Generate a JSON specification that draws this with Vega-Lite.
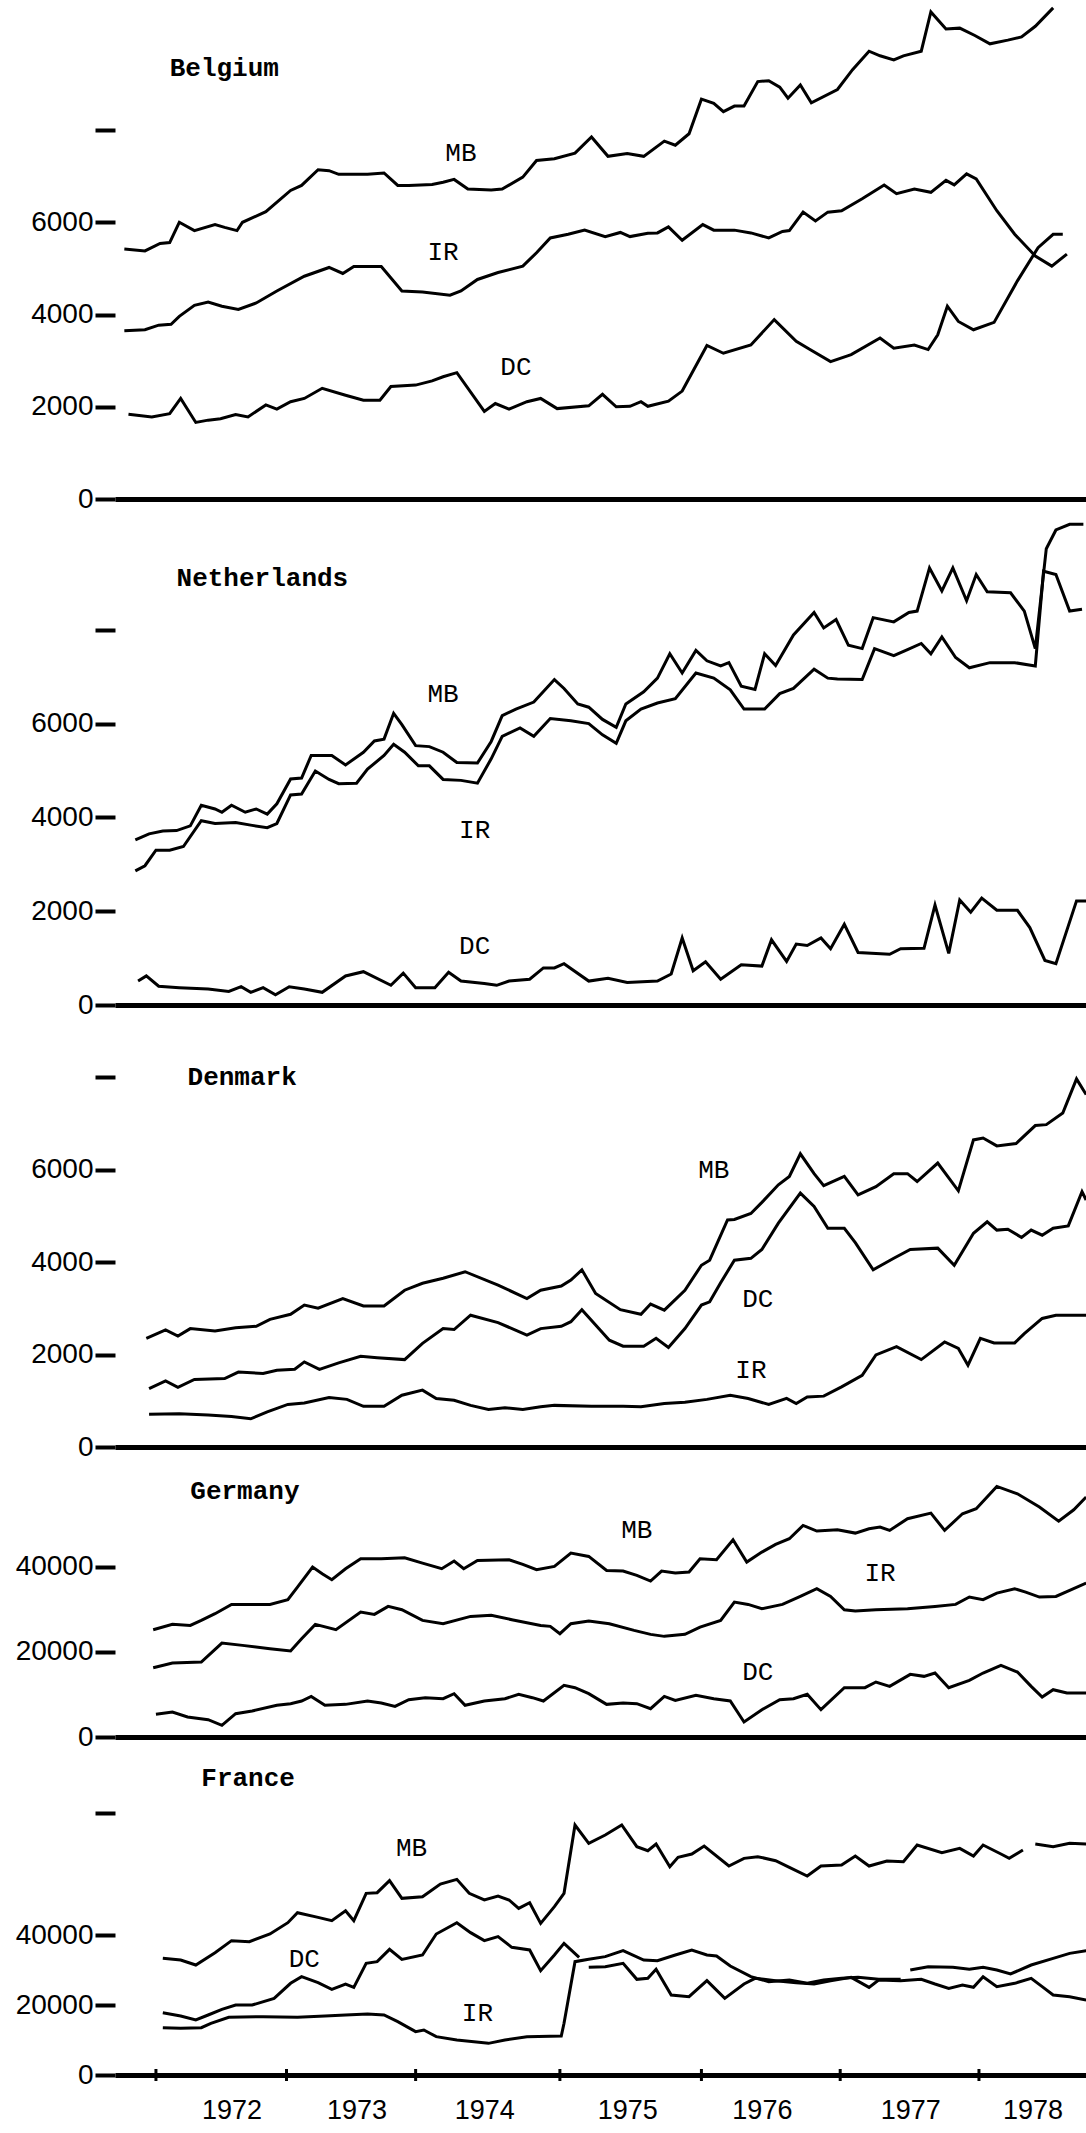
{
"$schema": "https://vega.github.io/schema/vega-lite/v6.json",
"padding": {"left": 15, "top": 0, "right": 0, "bottom": 0},
"background": "white",
"spacing": 0,
"bounds": "flush",
"config": {
 "view": {"stroke": null},
 "axisY": {"domain": false, "grid": false, "tickColor": "black", "tickWidth": 4, "tickSize": 20, "labelFont": "Liberation Sans", "labelFontSize": 28, "labelColor": "black", "labelPadding": 2, "labelFlush": false},
 "axisX": {"domainColor": "black", "domainWidth": 5, "ticks": false, "labels": false, "grid": false},
 "line": {"color": "black", "strokeWidth": 3, "clip": true},
 "text": {"font": "Liberation Mono", "fontSize": 26, "color": "black"}
},
"datasets": {
 "be": [
{"s":"MB","t":1971.77,"v":5420},{"s":"MB","t":1971.92,"v":5380},{"s":"MB","t":1972.03,"v":5540},{"s":"MB","t":1972.10,"v":5560},{"s":"MB","t":1972.17,"v":6000},{"s":"MB","t":1972.28,"v":5820},{"s":"MB","t":1972.43,"v":5950},{"s":"MB","t":1972.50,"v":5890},{"s":"MB","t":1972.59,"v":5820},{"s":"MB","t":1972.63,"v":6000},{"s":"MB","t":1972.80,"v":6230},{"s":"MB","t":1972.98,"v":6690},{"s":"MB","t":1973.06,"v":6800},{"s":"MB","t":1973.18,"v":7140},{"s":"MB","t":1973.26,"v":7120},{"s":"MB","t":1973.33,"v":7040},{"s":"MB","t":1973.54,"v":7040},{"s":"MB","t":1973.66,"v":7070},{"s":"MB","t":1973.76,"v":6800},{"s":"MB","t":1973.84,"v":6800},{"s":"MB","t":1974.01,"v":6820},{"s":"MB","t":1974.09,"v":6870},{"s":"MB","t":1974.17,"v":6930},{"s":"MB","t":1974.27,"v":6720},{"s":"MB","t":1974.44,"v":6700},{"s":"MB","t":1974.52,"v":6720},{"s":"MB","t":1974.67,"v":6980},{"s":"MB","t":1974.77,"v":7340},{"s":"MB","t":1974.90,"v":7380},{"s":"MB","t":1975.05,"v":7500},{"s":"MB","t":1975.17,"v":7850},{"s":"MB","t":1975.29,"v":7430},{"s":"MB","t":1975.43,"v":7490},{"s":"MB","t":1975.55,"v":7430},{"s":"MB","t":1975.70,"v":7760},{"s":"MB","t":1975.78,"v":7670},{"s":"MB","t":1975.88,"v":7920},{"s":"MB","t":1975.97,"v":8670},{"s":"MB","t":1976.06,"v":8580},{"s":"MB","t":1976.13,"v":8400},{"s":"MB","t":1976.21,"v":8520},{"s":"MB","t":1976.28,"v":8520},{"s":"MB","t":1976.38,"v":9050},{"s":"MB","t":1976.46,"v":9070},{"s":"MB","t":1976.54,"v":8930},{"s":"MB","t":1976.60,"v":8690},{"s":"MB","t":1976.69,"v":8980},{"s":"MB","t":1976.77,"v":8590},{"s":"MB","t":1976.96,"v":8880},{"s":"MB","t":1977.07,"v":9310},{"s":"MB","t":1977.19,"v":9710},{"s":"MB","t":1977.27,"v":9610},{"s":"MB","t":1977.37,"v":9520},{"s":"MB","t":1977.44,"v":9610},{"s":"MB","t":1977.57,"v":9710},{"s":"MB","t":1977.64,"v":10560},{"s":"MB","t":1977.75,"v":10190},{"s":"MB","t":1977.85,"v":10210},{"s":"MB","t":1977.96,"v":10050},{"s":"MB","t":1978.07,"v":9870},{"s":"MB","t":1978.20,"v":9950},{"s":"MB","t":1978.30,"v":10020},{"s":"MB","t":1978.40,"v":10250},{"s":"MB","t":1978.53,"v":10650},
{"s":"IR","t":1971.77,"v":3650},{"s":"IR","t":1971.92,"v":3670},{"s":"IR","t":1972.02,"v":3770},{"s":"IR","t":1972.11,"v":3790},{"s":"IR","t":1972.17,"v":3960},{"s":"IR","t":1972.28,"v":4200},{"s":"IR","t":1972.38,"v":4270},{"s":"IR","t":1972.48,"v":4180},{"s":"IR","t":1972.60,"v":4110},{"s":"IR","t":1972.73,"v":4250},{"s":"IR","t":1972.88,"v":4510},{"s":"IR","t":1973.08,"v":4830},{"s":"IR","t":1973.26,"v":5020},{"s":"IR","t":1973.36,"v":4890},{"s":"IR","t":1973.44,"v":5040},{"s":"IR","t":1973.64,"v":5040},{"s":"IR","t":1973.79,"v":4510},{"s":"IR","t":1973.94,"v":4490},{"s":"IR","t":1974.14,"v":4420},{"s":"IR","t":1974.22,"v":4510},{"s":"IR","t":1974.34,"v":4760},{"s":"IR","t":1974.49,"v":4910},{"s":"IR","t":1974.67,"v":5050},{"s":"IR","t":1974.77,"v":5340},{"s":"IR","t":1974.87,"v":5660},{"s":"IR","t":1975.00,"v":5740},{"s":"IR","t":1975.12,"v":5830},{"s":"IR","t":1975.27,"v":5690},{"s":"IR","t":1975.38,"v":5780},{"s":"IR","t":1975.45,"v":5690},{"s":"IR","t":1975.58,"v":5760},{"s":"IR","t":1975.65,"v":5770},{"s":"IR","t":1975.73,"v":5900},{"s":"IR","t":1975.83,"v":5610},{"s":"IR","t":1975.98,"v":5950},{"s":"IR","t":1976.06,"v":5830},{"s":"IR","t":1976.21,"v":5830},{"s":"IR","t":1976.33,"v":5770},{"s":"IR","t":1976.46,"v":5660},{"s":"IR","t":1976.56,"v":5800},{"s":"IR","t":1976.61,"v":5820},{"s":"IR","t":1976.71,"v":6220},{"s":"IR","t":1976.80,"v":6030},{"s":"IR","t":1976.89,"v":6220},{"s":"IR","t":1976.99,"v":6250},{"s":"IR","t":1977.14,"v":6510},{"s":"IR","t":1977.30,"v":6810},{"s":"IR","t":1977.39,"v":6620},{"s":"IR","t":1977.52,"v":6720},{"s":"IR","t":1977.64,"v":6650},{"s":"IR","t":1977.75,"v":6910},{"s":"IR","t":1977.81,"v":6810},{"s":"IR","t":1977.90,"v":7050},{"s":"IR","t":1977.97,"v":6940},{"s":"IR","t":1978.12,"v":6250},{"s":"IR","t":1978.25,"v":5740},{"s":"IR","t":1978.40,"v":5270},{"s":"IR","t":1978.52,"v":5050},{"s":"IR","t":1978.63,"v":5310},
{"s":"DC","t":1971.80,"v":1840},{"s":"DC","t":1971.97,"v":1780},{"s":"DC","t":1972.10,"v":1850},{"s":"DC","t":1972.18,"v":2180},{"s":"DC","t":1972.29,"v":1660},{"s":"DC","t":1972.38,"v":1710},{"s":"DC","t":1972.47,"v":1740},{"s":"DC","t":1972.58,"v":1830},{"s":"DC","t":1972.67,"v":1780},{"s":"DC","t":1972.80,"v":2040},{"s":"DC","t":1972.88,"v":1950},{"s":"DC","t":1972.98,"v":2110},{"s":"DC","t":1973.08,"v":2180},{"s":"DC","t":1973.21,"v":2400},{"s":"DC","t":1973.38,"v":2250},{"s":"DC","t":1973.51,"v":2140},{"s":"DC","t":1973.63,"v":2140},{"s":"DC","t":1973.71,"v":2440},{"s":"DC","t":1973.89,"v":2470},{"s":"DC","t":1974.01,"v":2560},{"s":"DC","t":1974.09,"v":2650},{"s":"DC","t":1974.19,"v":2740},{"s":"DC","t":1974.39,"v":1900},{"s":"DC","t":1974.47,"v":2070},{"s":"DC","t":1974.57,"v":1950},{"s":"DC","t":1974.70,"v":2110},{"s":"DC","t":1974.80,"v":2180},{"s":"DC","t":1974.92,"v":1960},{"s":"DC","t":1975.15,"v":2020},{"s":"DC","t":1975.25,"v":2270},{"s":"DC","t":1975.35,"v":2000},{"s":"DC","t":1975.45,"v":2010},{"s":"DC","t":1975.53,"v":2110},{"s":"DC","t":1975.58,"v":2010},{"s":"DC","t":1975.73,"v":2120},{"s":"DC","t":1975.83,"v":2340},{"s":"DC","t":1976.01,"v":3330},{"s":"DC","t":1976.13,"v":3160},{"s":"DC","t":1976.33,"v":3340},{"s":"DC","t":1976.50,"v":3890},{"s":"DC","t":1976.66,"v":3420},{"s":"DC","t":1976.76,"v":3240},{"s":"DC","t":1976.91,"v":2980},{"s":"DC","t":1977.06,"v":3130},{"s":"DC","t":1977.27,"v":3490},{"s":"DC","t":1977.37,"v":3270},{"s":"DC","t":1977.52,"v":3340},{"s":"DC","t":1977.62,"v":3240},{"s":"DC","t":1977.69,"v":3560},{"s":"DC","t":1977.76,"v":4180},{"s":"DC","t":1977.84,"v":3850},{"s":"DC","t":1977.95,"v":3670},{"s":"DC","t":1978.10,"v":3830},{"s":"DC","t":1978.27,"v":4730},{"s":"DC","t":1978.42,"v":5450},{"s":"DC","t":1978.53,"v":5740},{"s":"DC","t":1978.60,"v":5740}
 ],
 "beL": [{"l":"MB","t":1974.22,"v":7500},{"l":"IR","t":1974.09,"v":5365},{"l":"DC","t":1974.62,"v":2870}],
 "beT": [{"l":"Belgium","t":1972.10,"v":9350}],
 "nl": [
{"s":"MB","t":1971.85,"v":3520},{"s":"MB","t":1971.95,"v":3650},{"s":"MB","t":1972.05,"v":3710},{"s":"MB","t":1972.15,"v":3720},{"s":"MB","t":1972.25,"v":3820},{"s":"MB","t":1972.33,"v":4260},{"s":"MB","t":1972.43,"v":4180},{"s":"MB","t":1972.48,"v":4110},{"s":"MB","t":1972.55,"v":4260},{"s":"MB","t":1972.65,"v":4110},{"s":"MB","t":1972.73,"v":4180},{"s":"MB","t":1972.81,"v":4070},{"s":"MB","t":1972.88,"v":4290},{"s":"MB","t":1972.98,"v":4820},{"s":"MB","t":1973.06,"v":4840},{"s":"MB","t":1973.13,"v":5320},{"s":"MB","t":1973.28,"v":5320},{"s":"MB","t":1973.38,"v":5120},{"s":"MB","t":1973.51,"v":5390},{"s":"MB","t":1973.59,"v":5630},{"s":"MB","t":1973.66,"v":5670},{"s":"MB","t":1973.73,"v":6220},{"s":"MB","t":1973.79,"v":5980},{"s":"MB","t":1973.89,"v":5530},{"s":"MB","t":1973.99,"v":5510},{"s":"MB","t":1974.09,"v":5390},{"s":"MB","t":1974.19,"v":5170},{"s":"MB","t":1974.34,"v":5160},{"s":"MB","t":1974.44,"v":5620},{"s":"MB","t":1974.52,"v":6170},{"s":"MB","t":1974.62,"v":6310},{"s":"MB","t":1974.75,"v":6460},{"s":"MB","t":1974.90,"v":6940},{"s":"MB","t":1974.97,"v":6750},{"s":"MB","t":1975.07,"v":6420},{"s":"MB","t":1975.15,"v":6350},{"s":"MB","t":1975.25,"v":6090},{"s":"MB","t":1975.35,"v":5920},{"s":"MB","t":1975.42,"v":6420},{"s":"MB","t":1975.55,"v":6680},{"s":"MB","t":1975.65,"v":6970},{"s":"MB","t":1975.74,"v":7490},{"s":"MB","t":1975.83,"v":7080},{"s":"MB","t":1975.93,"v":7560},{"s":"MB","t":1976.01,"v":7340},{"s":"MB","t":1976.11,"v":7230},{"s":"MB","t":1976.17,"v":7300},{"s":"MB","t":1976.26,"v":6800},{"s":"MB","t":1976.36,"v":6730},{"s":"MB","t":1976.43,"v":7490},{"s":"MB","t":1976.51,"v":7240},{"s":"MB","t":1976.64,"v":7890},{"s":"MB","t":1976.79,"v":8370},{"s":"MB","t":1976.86,"v":8040},{"s":"MB","t":1976.95,"v":8220},{"s":"MB","t":1977.04,"v":7670},{"s":"MB","t":1977.14,"v":7600},{"s":"MB","t":1977.22,"v":8260},{"s":"MB","t":1977.37,"v":8170},{"s":"MB","t":1977.48,"v":8370},{"s":"MB","t":1977.54,"v":8400},{"s":"MB","t":1977.63,"v":9320},{"s":"MB","t":1977.72,"v":8830},{"s":"MB","t":1977.80,"v":9320},{"s":"MB","t":1977.90,"v":8620},{"s":"MB","t":1977.97,"v":9180},{"s":"MB","t":1978.05,"v":8810},{"s":"MB","t":1978.22,"v":8790},{"s":"MB","t":1978.32,"v":8400},{"s":"MB","t":1978.40,"v":7600},{"s":"MB","t":1978.48,"v":9730},{"s":"MB","t":1978.55,"v":10130},{"s":"MB","t":1978.65,"v":10250},{"s":"MB","t":1978.75,"v":10250},
{"s":"IR","t":1971.85,"v":2860},{"s":"IR","t":1971.92,"v":2970},{"s":"IR","t":1972.00,"v":3300},{"s":"IR","t":1972.10,"v":3300},{"s":"IR","t":1972.20,"v":3380},{"s":"IR","t":1972.33,"v":3930},{"s":"IR","t":1972.43,"v":3870},{"s":"IR","t":1972.58,"v":3890},{"s":"IR","t":1972.70,"v":3830},{"s":"IR","t":1972.81,"v":3780},{"s":"IR","t":1972.88,"v":3870},{"s":"IR","t":1972.98,"v":4480},{"s":"IR","t":1973.06,"v":4500},{"s":"IR","t":1973.16,"v":4990},{"s":"IR","t":1973.26,"v":4810},{"s":"IR","t":1973.33,"v":4720},{"s":"IR","t":1973.46,"v":4730},{"s":"IR","t":1973.54,"v":5030},{"s":"IR","t":1973.66,"v":5320},{"s":"IR","t":1973.73,"v":5560},{"s":"IR","t":1973.81,"v":5390},{"s":"IR","t":1973.91,"v":5100},{"s":"IR","t":1973.99,"v":5100},{"s":"IR","t":1974.09,"v":4810},{"s":"IR","t":1974.22,"v":4790},{"s":"IR","t":1974.34,"v":4730},{"s":"IR","t":1974.44,"v":5250},{"s":"IR","t":1974.52,"v":5730},{"s":"IR","t":1974.65,"v":5910},{"s":"IR","t":1974.75,"v":5730},{"s":"IR","t":1974.87,"v":6110},{"s":"IR","t":1975.02,"v":6060},{"s":"IR","t":1975.15,"v":6000},{"s":"IR","t":1975.25,"v":5760},{"s":"IR","t":1975.35,"v":5580},{"s":"IR","t":1975.42,"v":6060},{"s":"IR","t":1975.53,"v":6310},{"s":"IR","t":1975.65,"v":6440},{"s":"IR","t":1975.78,"v":6530},{"s":"IR","t":1975.93,"v":7080},{"s":"IR","t":1976.06,"v":6970},{"s":"IR","t":1976.18,"v":6720},{"s":"IR","t":1976.28,"v":6310},{"s":"IR","t":1976.43,"v":6310},{"s":"IR","t":1976.54,"v":6640},{"s":"IR","t":1976.64,"v":6750},{"s":"IR","t":1976.79,"v":7160},{"s":"IR","t":1976.89,"v":6970},{"s":"IR","t":1976.96,"v":6950},{"s":"IR","t":1977.14,"v":6940},{"s":"IR","t":1977.23,"v":7600},{"s":"IR","t":1977.37,"v":7450},{"s":"IR","t":1977.47,"v":7580},{"s":"IR","t":1977.57,"v":7710},{"s":"IR","t":1977.64,"v":7490},{"s":"IR","t":1977.72,"v":7850},{"s":"IR","t":1977.82,"v":7410},{"s":"IR","t":1977.92,"v":7190},{"s":"IR","t":1978.07,"v":7300},{"s":"IR","t":1978.25,"v":7300},{"s":"IR","t":1978.40,"v":7230},{"s":"IR","t":1978.46,"v":9250},{"s":"IR","t":1978.55,"v":9180},{"s":"IR","t":1978.65,"v":8400},{"s":"IR","t":1978.74,"v":8440},
{"s":"DC","t":1971.87,"v":510},{"s":"DC","t":1971.93,"v":620},{"s":"DC","t":1972.02,"v":400},{"s":"DC","t":1972.17,"v":370},{"s":"DC","t":1972.38,"v":340},{"s":"DC","t":1972.53,"v":290},{"s":"DC","t":1972.62,"v":390},{"s":"DC","t":1972.69,"v":270},{"s":"DC","t":1972.78,"v":370},{"s":"DC","t":1972.87,"v":220},{"s":"DC","t":1972.97,"v":390},{"s":"DC","t":1973.08,"v":340},{"s":"DC","t":1973.21,"v":270},{"s":"DC","t":1973.38,"v":620},{"s":"DC","t":1973.51,"v":710},{"s":"DC","t":1973.71,"v":420},{"s":"DC","t":1973.80,"v":680},{"s":"DC","t":1973.89,"v":370},{"s":"DC","t":1974.03,"v":370},{"s":"DC","t":1974.13,"v":700},{"s":"DC","t":1974.22,"v":510},{"s":"DC","t":1974.39,"v":460},{"s":"DC","t":1974.48,"v":420},{"s":"DC","t":1974.57,"v":510},{"s":"DC","t":1974.72,"v":550},{"s":"DC","t":1974.82,"v":790},{"s":"DC","t":1974.90,"v":790},{"s":"DC","t":1974.97,"v":880},{"s":"DC","t":1975.15,"v":510},{"s":"DC","t":1975.29,"v":570},{"s":"DC","t":1975.43,"v":480},{"s":"DC","t":1975.65,"v":510},{"s":"DC","t":1975.75,"v":660},{"s":"DC","t":1975.83,"v":1430},{"s":"DC","t":1975.91,"v":730},{"s":"DC","t":1976.00,"v":920},{"s":"DC","t":1976.11,"v":550},{"s":"DC","t":1976.26,"v":860},{"s":"DC","t":1976.41,"v":830},{"s":"DC","t":1976.48,"v":1390},{"s":"DC","t":1976.59,"v":930},{"s":"DC","t":1976.66,"v":1300},{"s":"DC","t":1976.74,"v":1270},{"s":"DC","t":1976.84,"v":1430},{"s":"DC","t":1976.91,"v":1200},{"s":"DC","t":1977.01,"v":1720},{"s":"DC","t":1977.11,"v":1120},{"s":"DC","t":1977.34,"v":1080},{"s":"DC","t":1977.42,"v":1200},{"s":"DC","t":1977.59,"v":1210},{"s":"DC","t":1977.67,"v":2130},{"s":"DC","t":1977.77,"v":1100},{"s":"DC","t":1977.85,"v":2240},{"s":"DC","t":1977.93,"v":1980},{"s":"DC","t":1978.01,"v":2280},{"s":"DC","t":1978.12,"v":2020},{"s":"DC","t":1978.27,"v":2020},{"s":"DC","t":1978.36,"v":1650},{"s":"DC","t":1978.47,"v":950},{"s":"DC","t":1978.55,"v":880},{"s":"DC","t":1978.70,"v":2220},{"s":"DC","t":1978.77,"v":2220}
 ],
 "nlL": [{"l":"MB","t":1974.09,"v":6640},{"l":"IR","t":1974.32,"v":3740},{"l":"DC","t":1974.32,"v":1250}],
 "nlT": [{"l":"Netherlands","t":1972.15,"v":9100}],
 "dk": [
{"s":"MB","t":1971.93,"v":2350},{"s":"MB","t":1972.07,"v":2530},{"s":"MB","t":1972.16,"v":2400},{"s":"MB","t":1972.25,"v":2560},{"s":"MB","t":1972.43,"v":2510},{"s":"MB","t":1972.58,"v":2580},{"s":"MB","t":1972.73,"v":2610},{"s":"MB","t":1972.83,"v":2760},{"s":"MB","t":1972.98,"v":2870},{"s":"MB","t":1973.08,"v":3070},{"s":"MB","t":1973.18,"v":3000},{"s":"MB","t":1973.36,"v":3210},{"s":"MB","t":1973.51,"v":3050},{"s":"MB","t":1973.66,"v":3050},{"s":"MB","t":1973.81,"v":3390},{"s":"MB","t":1973.94,"v":3540},{"s":"MB","t":1974.09,"v":3650},{"s":"MB","t":1974.25,"v":3790},{"s":"MB","t":1974.49,"v":3500},{"s":"MB","t":1974.70,"v":3210},{"s":"MB","t":1974.80,"v":3390},{"s":"MB","t":1974.95,"v":3480},{"s":"MB","t":1975.02,"v":3610},{"s":"MB","t":1975.10,"v":3830},{"s":"MB","t":1975.20,"v":3320},{"s":"MB","t":1975.38,"v":2970},{"s":"MB","t":1975.53,"v":2870},{"s":"MB","t":1975.60,"v":3090},{"s":"MB","t":1975.70,"v":2960},{"s":"MB","t":1975.85,"v":3390},{"s":"MB","t":1975.97,"v":3930},{"s":"MB","t":1976.03,"v":4040},{"s":"MB","t":1976.16,"v":4910},{"s":"MB","t":1976.21,"v":4920},{"s":"MB","t":1976.33,"v":5050},{"s":"MB","t":1976.41,"v":5290},{"s":"MB","t":1976.53,"v":5670},{"s":"MB","t":1976.61,"v":5850},{"s":"MB","t":1976.69,"v":6340},{"s":"MB","t":1976.79,"v":5910},{"s":"MB","t":1976.86,"v":5650},{"s":"MB","t":1977.01,"v":5850},{"s":"MB","t":1977.11,"v":5450},{"s":"MB","t":1977.24,"v":5630},{"s":"MB","t":1977.37,"v":5910},{"s":"MB","t":1977.47,"v":5910},{"s":"MB","t":1977.54,"v":5740},{"s":"MB","t":1977.69,"v":6140},{"s":"MB","t":1977.84,"v":5540},{"s":"MB","t":1977.95,"v":6640},{"s":"MB","t":1978.02,"v":6680},{"s":"MB","t":1978.12,"v":6510},{"s":"MB","t":1978.26,"v":6560},{"s":"MB","t":1978.40,"v":6950},{"s":"MB","t":1978.48,"v":6970},{"s":"MB","t":1978.60,"v":7220},{"s":"MB","t":1978.70,"v":7960},{"s":"MB","t":1978.77,"v":7620},
{"s":"DC","t":1971.95,"v":1260},{"s":"DC","t":1972.07,"v":1430},{"s":"DC","t":1972.16,"v":1290},{"s":"DC","t":1972.28,"v":1460},{"s":"DC","t":1972.50,"v":1480},{"s":"DC","t":1972.60,"v":1620},{"s":"DC","t":1972.78,"v":1590},{"s":"DC","t":1972.88,"v":1660},{"s":"DC","t":1973.01,"v":1680},{"s":"DC","t":1973.08,"v":1840},{"s":"DC","t":1973.19,"v":1680},{"s":"DC","t":1973.33,"v":1820},{"s":"DC","t":1973.49,"v":1960},{"s":"DC","t":1973.61,"v":1930},{"s":"DC","t":1973.81,"v":1890},{"s":"DC","t":1973.94,"v":2240},{"s":"DC","t":1974.09,"v":2560},{"s":"DC","t":1974.17,"v":2540},{"s":"DC","t":1974.29,"v":2850},{"s":"DC","t":1974.49,"v":2690},{"s":"DC","t":1974.70,"v":2420},{"s":"DC","t":1974.80,"v":2560},{"s":"DC","t":1974.95,"v":2610},{"s":"DC","t":1975.02,"v":2710},{"s":"DC","t":1975.10,"v":2970},{"s":"DC","t":1975.20,"v":2640},{"s":"DC","t":1975.30,"v":2310},{"s":"DC","t":1975.40,"v":2180},{"s":"DC","t":1975.55,"v":2180},{"s":"DC","t":1975.64,"v":2350},{"s":"DC","t":1975.73,"v":2150},{"s":"DC","t":1975.85,"v":2560},{"s":"DC","t":1975.97,"v":3070},{"s":"DC","t":1976.03,"v":3140},{"s":"DC","t":1976.11,"v":3550},{"s":"DC","t":1976.21,"v":4040},{"s":"DC","t":1976.33,"v":4080},{"s":"DC","t":1976.41,"v":4270},{"s":"DC","t":1976.53,"v":4840},{"s":"DC","t":1976.69,"v":5490},{"s":"DC","t":1976.79,"v":5200},{"s":"DC","t":1976.89,"v":4730},{"s":"DC","t":1977.01,"v":4730},{"s":"DC","t":1977.09,"v":4420},{"s":"DC","t":1977.22,"v":3830},{"s":"DC","t":1977.37,"v":4080},{"s":"DC","t":1977.49,"v":4270},{"s":"DC","t":1977.69,"v":4300},{"s":"DC","t":1977.81,"v":3930},{"s":"DC","t":1977.95,"v":4620},{"s":"DC","t":1978.05,"v":4870},{"s":"DC","t":1978.12,"v":4690},{"s":"DC","t":1978.20,"v":4710},{"s":"DC","t":1978.30,"v":4530},{"s":"DC","t":1978.37,"v":4690},{"s":"DC","t":1978.45,"v":4580},{"s":"DC","t":1978.53,"v":4730},{"s":"DC","t":1978.64,"v":4780},{"s":"DC","t":1978.74,"v":5520},{"s":"DC","t":1978.77,"v":5340},
{"s":"IR","t":1971.95,"v":710},{"s":"IR","t":1972.17,"v":720},{"s":"IR","t":1972.38,"v":690},{"s":"IR","t":1972.55,"v":660},{"s":"IR","t":1972.69,"v":610},{"s":"IR","t":1972.81,"v":760},{"s":"IR","t":1972.96,"v":920},{"s":"IR","t":1973.08,"v":950},{"s":"IR","t":1973.26,"v":1070},{"s":"IR","t":1973.39,"v":1030},{"s":"IR","t":1973.51,"v":880},{"s":"IR","t":1973.66,"v":880},{"s":"IR","t":1973.79,"v":1120},{"s":"IR","t":1973.94,"v":1230},{"s":"IR","t":1974.04,"v":1050},{"s":"IR","t":1974.17,"v":1010},{"s":"IR","t":1974.29,"v":900},{"s":"IR","t":1974.42,"v":810},{"s":"IR","t":1974.54,"v":850},{"s":"IR","t":1974.67,"v":810},{"s":"IR","t":1974.80,"v":870},{"s":"IR","t":1974.90,"v":900},{"s":"IR","t":1975.17,"v":880},{"s":"IR","t":1975.40,"v":880},{"s":"IR","t":1975.53,"v":870},{"s":"IR","t":1975.70,"v":940},{"s":"IR","t":1975.85,"v":970},{"s":"IR","t":1976.01,"v":1030},{"s":"IR","t":1976.18,"v":1120},{"s":"IR","t":1976.31,"v":1050},{"s":"IR","t":1976.46,"v":920},{"s":"IR","t":1976.59,"v":1050},{"s":"IR","t":1976.66,"v":940},{"s":"IR","t":1976.74,"v":1080},{"s":"IR","t":1976.86,"v":1100},{"s":"IR","t":1976.99,"v":1300},{"s":"IR","t":1977.14,"v":1550},{"s":"IR","t":1977.24,"v":1990},{"s":"IR","t":1977.39,"v":2170},{"s":"IR","t":1977.57,"v":1890},{"s":"IR","t":1977.74,"v":2270},{"s":"IR","t":1977.84,"v":2130},{"s":"IR","t":1977.91,"v":1770},{"s":"IR","t":1978.00,"v":2350},{"s":"IR","t":1978.10,"v":2250},{"s":"IR","t":1978.25,"v":2250},{"s":"IR","t":1978.32,"v":2450},{"s":"IR","t":1978.45,"v":2780},{"s":"IR","t":1978.55,"v":2850},{"s":"IR","t":1978.77,"v":2850}
 ],
 "dkL": [{"l":"MB","t":1976.06,"v":5990},{"l":"DC","t":1976.38,"v":3210},{"l":"IR","t":1976.33,"v":1660}],
 "dkT": [{"l":"Denmark","t":1972.23,"v":8000}],
 "de": [
{"s":"MB","t":1971.98,"v":25240},{"s":"MB","t":1972.12,"v":26500},{"s":"MB","t":1972.25,"v":26260},{"s":"MB","t":1972.33,"v":27440},{"s":"MB","t":1972.43,"v":29010},{"s":"MB","t":1972.55,"v":31200},{"s":"MB","t":1972.68,"v":31200},{"s":"MB","t":1972.83,"v":31200},{"s":"MB","t":1972.96,"v":32300},{"s":"MB","t":1973.03,"v":35280},{"s":"MB","t":1973.14,"v":39980},{"s":"MB","t":1973.21,"v":38420},{"s":"MB","t":1973.28,"v":37000},{"s":"MB","t":1973.38,"v":39590},{"s":"MB","t":1973.49,"v":41940},{"s":"MB","t":1973.64,"v":41940},{"s":"MB","t":1973.81,"v":42180},{"s":"MB","t":1973.94,"v":40920},{"s":"MB","t":1974.08,"v":39590},{"s":"MB","t":1974.17,"v":41400},{"s":"MB","t":1974.24,"v":39590},{"s":"MB","t":1974.34,"v":41550},{"s":"MB","t":1974.57,"v":41710},{"s":"MB","t":1974.67,"v":40610},{"s":"MB","t":1974.77,"v":39360},{"s":"MB","t":1974.90,"v":40140},{"s":"MB","t":1975.02,"v":43280},{"s":"MB","t":1975.15,"v":42490},{"s":"MB","t":1975.28,"v":39200},{"s":"MB","t":1975.40,"v":39040},{"s":"MB","t":1975.50,"v":38020},{"s":"MB","t":1975.60,"v":36690},{"s":"MB","t":1975.68,"v":39040},{"s":"MB","t":1975.78,"v":38570},{"s":"MB","t":1975.88,"v":38810},{"s":"MB","t":1975.96,"v":41940},{"s":"MB","t":1976.08,"v":41710},{"s":"MB","t":1976.20,"v":46410},{"s":"MB","t":1976.30,"v":41160},{"s":"MB","t":1976.41,"v":43510},{"s":"MB","t":1976.51,"v":45320},{"s":"MB","t":1976.61,"v":46650},{"s":"MB","t":1976.71,"v":49780},{"s":"MB","t":1976.81,"v":48450},{"s":"MB","t":1976.96,"v":48760},{"s":"MB","t":1977.09,"v":47980},{"s":"MB","t":1977.19,"v":49000},{"s":"MB","t":1977.27,"v":49390},{"s":"MB","t":1977.34,"v":48610},{"s":"MB","t":1977.47,"v":51350},{"s":"MB","t":1977.64,"v":52680},{"s":"MB","t":1977.74,"v":48610},{"s":"MB","t":1977.87,"v":52530},{"s":"MB","t":1977.97,"v":53700},{"s":"MB","t":1978.12,"v":58960},{"s":"MB","t":1978.27,"v":57230},{"s":"MB","t":1978.43,"v":54100},{"s":"MB","t":1978.57,"v":50800},{"s":"MB","t":1978.68,"v":53470},{"s":"MB","t":1978.77,"v":56450},
{"s":"IR","t":1971.98,"v":16310},{"s":"IR","t":1972.12,"v":17400},{"s":"IR","t":1972.33,"v":17640},{"s":"IR","t":1972.48,"v":22110},{"s":"IR","t":1972.63,"v":21560},{"s":"IR","t":1972.83,"v":20780},{"s":"IR","t":1972.98,"v":20230},{"s":"IR","t":1973.06,"v":23130},{"s":"IR","t":1973.16,"v":26500},{"s":"IR","t":1973.31,"v":25240},{"s":"IR","t":1973.49,"v":29400},{"s":"IR","t":1973.59,"v":28850},{"s":"IR","t":1973.69,"v":30730},{"s":"IR","t":1973.79,"v":29950},{"s":"IR","t":1973.94,"v":27440},{"s":"IR","t":1974.09,"v":26660},{"s":"IR","t":1974.29,"v":28380},{"s":"IR","t":1974.44,"v":28620},{"s":"IR","t":1974.59,"v":27600},{"s":"IR","t":1974.80,"v":26260},{"s":"IR","t":1974.87,"v":26030},{"s":"IR","t":1974.94,"v":24300},{"s":"IR","t":1975.02,"v":26660},{"s":"IR","t":1975.15,"v":27280},{"s":"IR","t":1975.30,"v":26660},{"s":"IR","t":1975.48,"v":25090},{"s":"IR","t":1975.60,"v":24150},{"s":"IR","t":1975.70,"v":23680},{"s":"IR","t":1975.85,"v":24150},{"s":"IR","t":1975.96,"v":25870},{"s":"IR","t":1976.11,"v":27440},{"s":"IR","t":1976.21,"v":31750},{"s":"IR","t":1976.31,"v":31200},{"s":"IR","t":1976.41,"v":30180},{"s":"IR","t":1976.56,"v":31200},{"s":"IR","t":1976.69,"v":33080},{"s":"IR","t":1976.81,"v":34890},{"s":"IR","t":1976.91,"v":33080},{"s":"IR","t":1977.01,"v":29950},{"s":"IR","t":1977.09,"v":29640},{"s":"IR","t":1977.24,"v":29950},{"s":"IR","t":1977.47,"v":30180},{"s":"IR","t":1977.67,"v":30730},{"s":"IR","t":1977.82,"v":31200},{"s":"IR","t":1977.92,"v":32930},{"s":"IR","t":1978.02,"v":32300},{"s":"IR","t":1978.12,"v":33870},{"s":"IR","t":1978.25,"v":34890},{"s":"IR","t":1978.33,"v":34100},{"s":"IR","t":1978.43,"v":32930},{"s":"IR","t":1978.55,"v":33080},{"s":"IR","t":1978.65,"v":34500},{"s":"IR","t":1978.77,"v":36220},
{"s":"DC","t":1972.00,"v":5330},{"s":"DC","t":1972.12,"v":5880},{"s":"DC","t":1972.23,"v":4700},{"s":"DC","t":1972.38,"v":4080},{"s":"DC","t":1972.48,"v":2740},{"s":"DC","t":1972.58,"v":5490},{"s":"DC","t":1972.70,"v":6120},{"s":"DC","t":1972.88,"v":7450},{"s":"DC","t":1972.98,"v":7840},{"s":"DC","t":1973.06,"v":8470},{"s":"DC","t":1973.13,"v":9560},{"s":"DC","t":1973.23,"v":7450},{"s":"DC","t":1973.38,"v":7680},{"s":"DC","t":1973.54,"v":8470},{"s":"DC","t":1973.64,"v":8000},{"s":"DC","t":1973.74,"v":7210},{"s":"DC","t":1973.84,"v":8780},{"s":"DC","t":1973.96,"v":9250},{"s":"DC","t":1974.09,"v":9020},{"s":"DC","t":1974.17,"v":10190},{"s":"DC","t":1974.25,"v":7450},{"s":"DC","t":1974.39,"v":8470},{"s":"DC","t":1974.54,"v":9020},{"s":"DC","t":1974.64,"v":10040},{"s":"DC","t":1974.74,"v":9250},{"s":"DC","t":1974.82,"v":8470},{"s":"DC","t":1974.97,"v":12150},{"s":"DC","t":1975.05,"v":11600},{"s":"DC","t":1975.15,"v":10190},{"s":"DC","t":1975.28,"v":7680},{"s":"DC","t":1975.40,"v":8000},{"s":"DC","t":1975.50,"v":7840},{"s":"DC","t":1975.60,"v":6660},{"s":"DC","t":1975.70,"v":9560},{"s":"DC","t":1975.78,"v":8620},{"s":"DC","t":1975.93,"v":9800},{"s":"DC","t":1976.06,"v":9020},{"s":"DC","t":1976.18,"v":8470},{"s":"DC","t":1976.28,"v":3530},{"s":"DC","t":1976.41,"v":6430},{"s":"DC","t":1976.54,"v":8780},{"s":"DC","t":1976.64,"v":9020},{"s":"DC","t":1976.74,"v":10040},{"s":"DC","t":1976.84,"v":6430},{"s":"DC","t":1977.01,"v":11600},{"s":"DC","t":1977.16,"v":11600},{"s":"DC","t":1977.24,"v":12940},{"s":"DC","t":1977.34,"v":11920},{"s":"DC","t":1977.49,"v":14740},{"s":"DC","t":1977.59,"v":14270},{"s":"DC","t":1977.67,"v":15050},{"s":"DC","t":1977.77,"v":11600},{"s":"DC","t":1977.92,"v":13330},{"s":"DC","t":1978.02,"v":15050},{"s":"DC","t":1978.15,"v":16860},{"s":"DC","t":1978.27,"v":15290},{"s":"DC","t":1978.37,"v":11920},{"s":"DC","t":1978.45,"v":9410},{"s":"DC","t":1978.53,"v":11130},{"s":"DC","t":1978.63,"v":10350},{"s":"DC","t":1978.77,"v":10350}
 ],
 "deL": [{"l":"MB","t":1975.50,"v":48760},{"l":"IR","t":1977.27,"v":38570},{"l":"DC","t":1976.38,"v":15290}],
 "deT": [{"l":"Germany","t":1972.25,"v":57860}],
 "fr": [
{"s":"MB","g":1,"t":1972.05,"v":33390},{"s":"MB","g":1,"t":1972.18,"v":32910},{"s":"MB","g":1,"t":1972.29,"v":31480},{"s":"MB","g":1,"t":1972.43,"v":35010},{"s":"MB","g":1,"t":1972.55,"v":38450},{"s":"MB","g":1,"t":1972.68,"v":38160},{"s":"MB","g":1,"t":1972.83,"v":40350},{"s":"MB","g":1,"t":1972.96,"v":43600},{"s":"MB","g":1,"t":1973.03,"v":46460},{"s":"MB","g":1,"t":1973.18,"v":45120},{"s":"MB","g":1,"t":1973.28,"v":44170},{"s":"MB","g":1,"t":1973.38,"v":47030},{"s":"MB","g":1,"t":1973.44,"v":44170},{"s":"MB","g":1,"t":1973.53,"v":51990},{"s":"MB","g":1,"t":1973.61,"v":52180},{"s":"MB","g":1,"t":1973.70,"v":55620},{"s":"MB","g":1,"t":1973.79,"v":50560},{"s":"MB","g":1,"t":1973.94,"v":51040},{"s":"MB","g":1,"t":1974.07,"v":54660},{"s":"MB","g":1,"t":1974.19,"v":56000},{"s":"MB","g":1,"t":1974.28,"v":51990},{"s":"MB","g":1,"t":1974.39,"v":50090},{"s":"MB","g":1,"t":1974.49,"v":51230},{"s":"MB","g":1,"t":1974.57,"v":50090},{"s":"MB","g":1,"t":1974.64,"v":47700},{"s":"MB","g":1,"t":1974.72,"v":49320},{"s":"MB","g":1,"t":1974.80,"v":43410},{"s":"MB","g":1,"t":1974.90,"v":48180},{"s":"MB","g":1,"t":1974.97,"v":51990},{"s":"MB","g":1,"t":1975.05,"v":71550},{"s":"MB","g":1,"t":1975.15,"v":66300},{"s":"MB","g":1,"t":1975.27,"v":68690},{"s":"MB","g":1,"t":1975.39,"v":71550},{"s":"MB","g":1,"t":1975.50,"v":65350},{"s":"MB","g":1,"t":1975.58,"v":64200},{"s":"MB","g":1,"t":1975.64,"v":66110},{"s":"MB","g":1,"t":1975.74,"v":59630},{"s":"MB","g":1,"t":1975.80,"v":62300},{"s":"MB","g":1,"t":1975.90,"v":63250},{"s":"MB","g":1,"t":1975.99,"v":65540},{"s":"MB","g":1,"t":1976.17,"v":59820},{"s":"MB","g":1,"t":1976.28,"v":62010},{"s":"MB","g":1,"t":1976.38,"v":62490},{"s":"MB","g":1,"t":1976.51,"v":61340},{"s":"MB","g":1,"t":1976.61,"v":59430},{"s":"MB","g":1,"t":1976.74,"v":56950},{"s":"MB","g":1,"t":1976.84,"v":59820},{"s":"MB","g":1,"t":1976.99,"v":60100},{"s":"MB","g":1,"t":1977.09,"v":62680},{"s":"MB","g":1,"t":1977.19,"v":59820},{"s":"MB","g":1,"t":1977.32,"v":61250},{"s":"MB","g":1,"t":1977.44,"v":61060},{"s":"MB","g":1,"t":1977.54,"v":65830},{"s":"MB","g":1,"t":1977.72,"v":63630},{"s":"MB","g":1,"t":1977.85,"v":64870},{"s":"MB","g":1,"t":1977.95,"v":62680},{"s":"MB","g":1,"t":1978.02,"v":65830},{"s":"MB","g":1,"t":1978.15,"v":63250},{"s":"MB","g":1,"t":1978.21,"v":62010},{"s":"MB","g":1,"t":1978.31,"v":64400},
{"s":"MB","g":2,"t":1978.40,"v":66110},{"s":"MB","g":2,"t":1978.53,"v":65350},{"s":"MB","g":2,"t":1978.65,"v":66300},{"s":"MB","g":2,"t":1978.77,"v":66110},
{"s":"IR","g":1,"t":1972.05,"v":13550},{"s":"IR","g":1,"t":1972.18,"v":13360},{"s":"IR","g":1,"t":1972.33,"v":13550},{"s":"IR","g":1,"t":1972.40,"v":14790},{"s":"IR","g":1,"t":1972.53,"v":16500},{"s":"IR","g":1,"t":1972.78,"v":16700},{"s":"IR","g":1,"t":1973.03,"v":16500},{"s":"IR","g":1,"t":1973.23,"v":16890},{"s":"IR","g":1,"t":1973.38,"v":17170},{"s":"IR","g":1,"t":1973.54,"v":17460},{"s":"IR","g":1,"t":1973.66,"v":17170},{"s":"IR","g":1,"t":1973.76,"v":15260},{"s":"IR","g":1,"t":1973.89,"v":12400},{"s":"IR","g":1,"t":1973.95,"v":12880},{"s":"IR","g":1,"t":1974.04,"v":10970},{"s":"IR","g":1,"t":1974.19,"v":10020},{"s":"IR","g":1,"t":1974.42,"v":9060},{"s":"IR","g":1,"t":1974.54,"v":10020},{"s":"IR","g":1,"t":1974.70,"v":10970},{"s":"IR","g":1,"t":1974.95,"v":11160},{"s":"IR","g":1,"t":1974.97,"v":14790},{"s":"IR","g":1,"t":1975.05,"v":32440},{"s":"IR","g":1,"t":1975.15,"v":33100},{"s":"IR","g":1,"t":1975.27,"v":33870},{"s":"IR","g":1,"t":1975.40,"v":35580},{"s":"IR","g":1,"t":1975.55,"v":32910},{"s":"IR","g":1,"t":1975.65,"v":32720},{"s":"IR","g":1,"t":1975.78,"v":34340},{"s":"IR","g":1,"t":1975.90,"v":35780},{"s":"IR","g":1,"t":1976.01,"v":34340},{"s":"IR","g":1,"t":1976.08,"v":34060},{"s":"IR","g":1,"t":1976.18,"v":31200},{"s":"IR","g":1,"t":1976.33,"v":28140},{"s":"IR","g":1,"t":1976.46,"v":26710},{"s":"IR","g":1,"t":1976.61,"v":27190},{"s":"IR","g":1,"t":1976.74,"v":26240},{"s":"IR","g":1,"t":1976.86,"v":27190},{"s":"IR","g":1,"t":1976.99,"v":27670},{"s":"IR","g":1,"t":1977.11,"v":27950},{"s":"IR","g":1,"t":1977.26,"v":27380},{"s":"IR","g":1,"t":1977.42,"v":27380},
{"s":"IR","g":2,"t":1977.49,"v":30050},{"s":"IR","g":2,"t":1977.62,"v":31010},{"s":"IR","g":2,"t":1977.80,"v":30810},{"s":"IR","g":2,"t":1977.92,"v":30240},{"s":"IR","g":2,"t":1978.02,"v":30810},{"s":"IR","g":2,"t":1978.12,"v":30050},{"s":"IR","g":2,"t":1978.22,"v":28910},{"s":"IR","g":2,"t":1978.37,"v":31480},{"s":"IR","g":2,"t":1978.53,"v":33390},{"s":"IR","g":2,"t":1978.65,"v":34820},{"s":"IR","g":2,"t":1978.77,"v":35580},
{"s":"DC","g":1,"t":1972.05,"v":17840},{"s":"DC","g":1,"t":1972.18,"v":16890},{"s":"DC","g":1,"t":1972.29,"v":15740},{"s":"DC","g":1,"t":1972.38,"v":17170},{"s":"DC","g":1,"t":1972.48,"v":18790},{"s":"DC","g":1,"t":1972.58,"v":20030},{"s":"DC","g":1,"t":1972.70,"v":20030},{"s":"DC","g":1,"t":1972.86,"v":21940},{"s":"DC","g":1,"t":1972.98,"v":26240},{"s":"DC","g":1,"t":1973.06,"v":28140},{"s":"DC","g":1,"t":1973.18,"v":26430},{"s":"DC","g":1,"t":1973.28,"v":24520},{"s":"DC","g":1,"t":1973.38,"v":26040},{"s":"DC","g":1,"t":1973.44,"v":25090},{"s":"DC","g":1,"t":1973.53,"v":31960},{"s":"DC","g":1,"t":1973.61,"v":32440},{"s":"DC","g":1,"t":1973.70,"v":35970},{"s":"DC","g":1,"t":1973.79,"v":33100},{"s":"DC","g":1,"t":1973.94,"v":34340},{"s":"DC","g":1,"t":1974.04,"v":40350},{"s":"DC","g":1,"t":1974.19,"v":43600},{"s":"DC","g":1,"t":1974.29,"v":40740},{"s":"DC","g":1,"t":1974.39,"v":38450},{"s":"DC","g":1,"t":1974.49,"v":39590},{"s":"DC","g":1,"t":1974.59,"v":36540},{"s":"DC","g":1,"t":1974.72,"v":35780},{"s":"DC","g":1,"t":1974.80,"v":29860},{"s":"DC","g":1,"t":1974.90,"v":34340},{"s":"DC","g":1,"t":1974.97,"v":37680},{"s":"DC","g":1,"t":1975.08,"v":33680},
{"s":"DC","g":2,"t":1975.15,"v":30810},{"s":"DC","g":2,"t":1975.27,"v":31010},{"s":"DC","g":2,"t":1975.40,"v":31960},{"s":"DC","g":2,"t":1975.50,"v":27380},{"s":"DC","g":2,"t":1975.58,"v":27670},{"s":"DC","g":2,"t":1975.64,"v":30240},{"s":"DC","g":2,"t":1975.75,"v":22900},{"s":"DC","g":2,"t":1975.88,"v":22420},{"s":"DC","g":2,"t":1976.01,"v":27000},{"s":"DC","g":2,"t":1976.14,"v":21940},{"s":"DC","g":2,"t":1976.28,"v":26040},{"s":"DC","g":2,"t":1976.36,"v":27670},{"s":"DC","g":2,"t":1976.51,"v":27000},{"s":"DC","g":2,"t":1976.66,"v":26430},{"s":"DC","g":2,"t":1976.79,"v":26040},{"s":"DC","g":2,"t":1976.91,"v":27000},{"s":"DC","g":2,"t":1977.06,"v":27950},{"s":"DC","g":2,"t":1977.19,"v":25090},{"s":"DC","g":2,"t":1977.26,"v":27190},{"s":"DC","g":2,"t":1977.42,"v":27000},{"s":"DC","g":2,"t":1977.57,"v":27380},{"s":"DC","g":2,"t":1977.67,"v":26040},{"s":"DC","g":2,"t":1977.77,"v":24800},{"s":"DC","g":2,"t":1977.87,"v":25760},{"s":"DC","g":2,"t":1977.95,"v":25090},{"s":"DC","g":2,"t":1978.02,"v":28140},{"s":"DC","g":2,"t":1978.12,"v":25280},{"s":"DC","g":2,"t":1978.25,"v":26240},{"s":"DC","g":2,"t":1978.37,"v":27670},{"s":"DC","g":2,"t":1978.45,"v":25280},{"s":"DC","g":2,"t":1978.53,"v":22900},{"s":"DC","g":2,"t":1978.65,"v":22420},{"s":"DC","g":2,"t":1978.77,"v":21460}
 ],
 "frL": [{"l":"MB","t":1973.86,"v":64870},{"l":"DC","t":1973.08,"v":33100},{"l":"IR","t":1974.34,"v":17650}],
 "frT": [{"l":"France","t":1972.33,"v":84900}],
 "frK": [{"t":1972.0,"v":0},{"t":1972.95,"v":0},{"t":1973.89,"v":0},{"t":1974.94,"v":0},{"t":1975.97,"v":0},{"t":1976.98,"v":0},{"t":1977.99,"v":0}]
},
"vconcat": [
 {
  "width": 971, "height": 499,
  "encoding": {
   "x": {"field": "t", "type": "quantitative", "title": null, "scale": {"domain": [1971.702, 1978.769], "nice": false, "zero": false}},
   "y": {"field": "v", "type": "quantitative", "title": null, "scale": {"domain": [0, 10820], "nice": false}, "axis": {"values": [0, 2000, 4000, 6000, 8000], "format": "d", "labelExpr": "datum.value == 8000 ? '' : datum.label"}}
  },
  "layer": [
   {"data": {"name": "be"}, "mark": {"type": "line"}, "encoding": {"detail": {"field": "s"}}},
   {"data": {"name": "beL"}, "mark": {"type": "text", "align": "center", "baseline": "middle"}, "encoding": {"text": {"field": "l"}}},
   {"data": {"name": "beT"}, "mark": {"type": "text", "align": "left", "baseline": "middle", "fontWeight": "bold"}, "encoding": {"text": {"field": "l"}}}
  ]
 },
 {
  "width": 971, "height": 506,
  "encoding": {
   "x": {"field": "t", "type": "quantitative", "title": null, "scale": {"domain": [1971.702, 1978.769], "nice": false, "zero": false}},
   "y": {"field": "v", "type": "quantitative", "title": null, "scale": {"domain": [0, 10790], "nice": false}, "axis": {"values": [0, 2000, 4000, 6000, 8000], "format": "d", "labelExpr": "datum.value == 8000 ? '' : datum.label"}}
  },
  "layer": [
   {"data": {"name": "nl"}, "mark": {"type": "line"}, "encoding": {"detail": {"field": "s"}}},
   {"data": {"name": "nlL"}, "mark": {"type": "text", "align": "center", "baseline": "middle"}, "encoding": {"text": {"field": "l"}}},
   {"data": {"name": "nlT"}, "mark": {"type": "text", "align": "left", "baseline": "middle", "fontWeight": "bold"}, "encoding": {"text": {"field": "l"}}}
  ]
 },
 {
  "width": 971, "height": 442,
  "encoding": {
   "x": {"field": "t", "type": "quantitative", "title": null, "scale": {"domain": [1971.702, 1978.769], "nice": false, "zero": false}},
   "y": {"field": "v", "type": "quantitative", "title": null, "scale": {"domain": [0, 9557], "nice": false}, "axis": {"values": [0, 2000, 4000, 6000, 8000], "format": "d", "labelExpr": "datum.value == 8000 ? '' : datum.label"}}
  },
  "layer": [
   {"data": {"name": "dk"}, "mark": {"type": "line"}, "encoding": {"detail": {"field": "s"}}},
   {"data": {"name": "dkL"}, "mark": {"type": "text", "align": "center", "baseline": "middle"}, "encoding": {"text": {"field": "l"}}},
   {"data": {"name": "dkT"}, "mark": {"type": "text", "align": "left", "baseline": "middle", "fontWeight": "bold"}, "encoding": {"text": {"field": "l"}}}
  ]
 },
 {
  "width": 971, "height": 290,
  "encoding": {
   "x": {"field": "t", "type": "quantitative", "title": null, "scale": {"domain": [1971.702, 1978.769], "nice": false, "zero": false}},
   "y": {"field": "v", "type": "quantitative", "title": null, "scale": {"domain": [0, 68235], "nice": false}, "axis": {"values": [0, 20000, 40000], "format": "d"}}
  },
  "layer": [
   {"data": {"name": "de"}, "mark": {"type": "line"}, "encoding": {"detail": {"field": "s"}}},
   {"data": {"name": "deL"}, "mark": {"type": "text", "align": "center", "baseline": "middle"}, "encoding": {"text": {"field": "l"}}},
   {"data": {"name": "deT"}, "mark": {"type": "text", "align": "left", "baseline": "middle", "fontWeight": "bold"}, "encoding": {"text": {"field": "l"}}}
  ]
 },
 {
  "width": 971, "height": 338,
  "encoding": {
   "x": {"field": "t", "type": "quantitative", "title": null, "scale": {"domain": [1971.702, 1978.769], "nice": false, "zero": false}, "axis": {"labels": true, "values": [1972.55, 1973.46, 1974.39, 1975.43, 1976.41, 1977.49, 1978.38], "labelExpr": "'' + floor(datum.value)", "labelFont": "Liberation Sans", "labelFontSize": 27, "labelColor": "black", "labelPadding": 22, "labelFlush": false, "labelOverlap": false}},
   "y": {"field": "v", "type": "quantitative", "title": null, "scale": {"domain": [0, 96740], "nice": false}, "axis": {"values": [0, 20000, 40000, 75000], "format": "d", "labelExpr": "datum.value == 75000 ? '' : datum.label"}}
  },
  "layer": [
   {"data": {"name": "fr"}, "mark": {"type": "line"}, "encoding": {"detail": [{"field": "s"}, {"field": "g"}]}},
   {"data": {"name": "frK"}, "mark": {"type": "tick", "orient": "vertical", "size": 12, "thickness": 3, "color": "black", "opacity": 1}},
   {"data": {"name": "frL"}, "mark": {"type": "text", "align": "center", "baseline": "middle"}, "encoding": {"text": {"field": "l"}}},
   {"data": {"name": "frT"}, "mark": {"type": "text", "align": "left", "baseline": "middle", "fontWeight": "bold"}, "encoding": {"text": {"field": "l"}}}
  ]
 }
]
}
